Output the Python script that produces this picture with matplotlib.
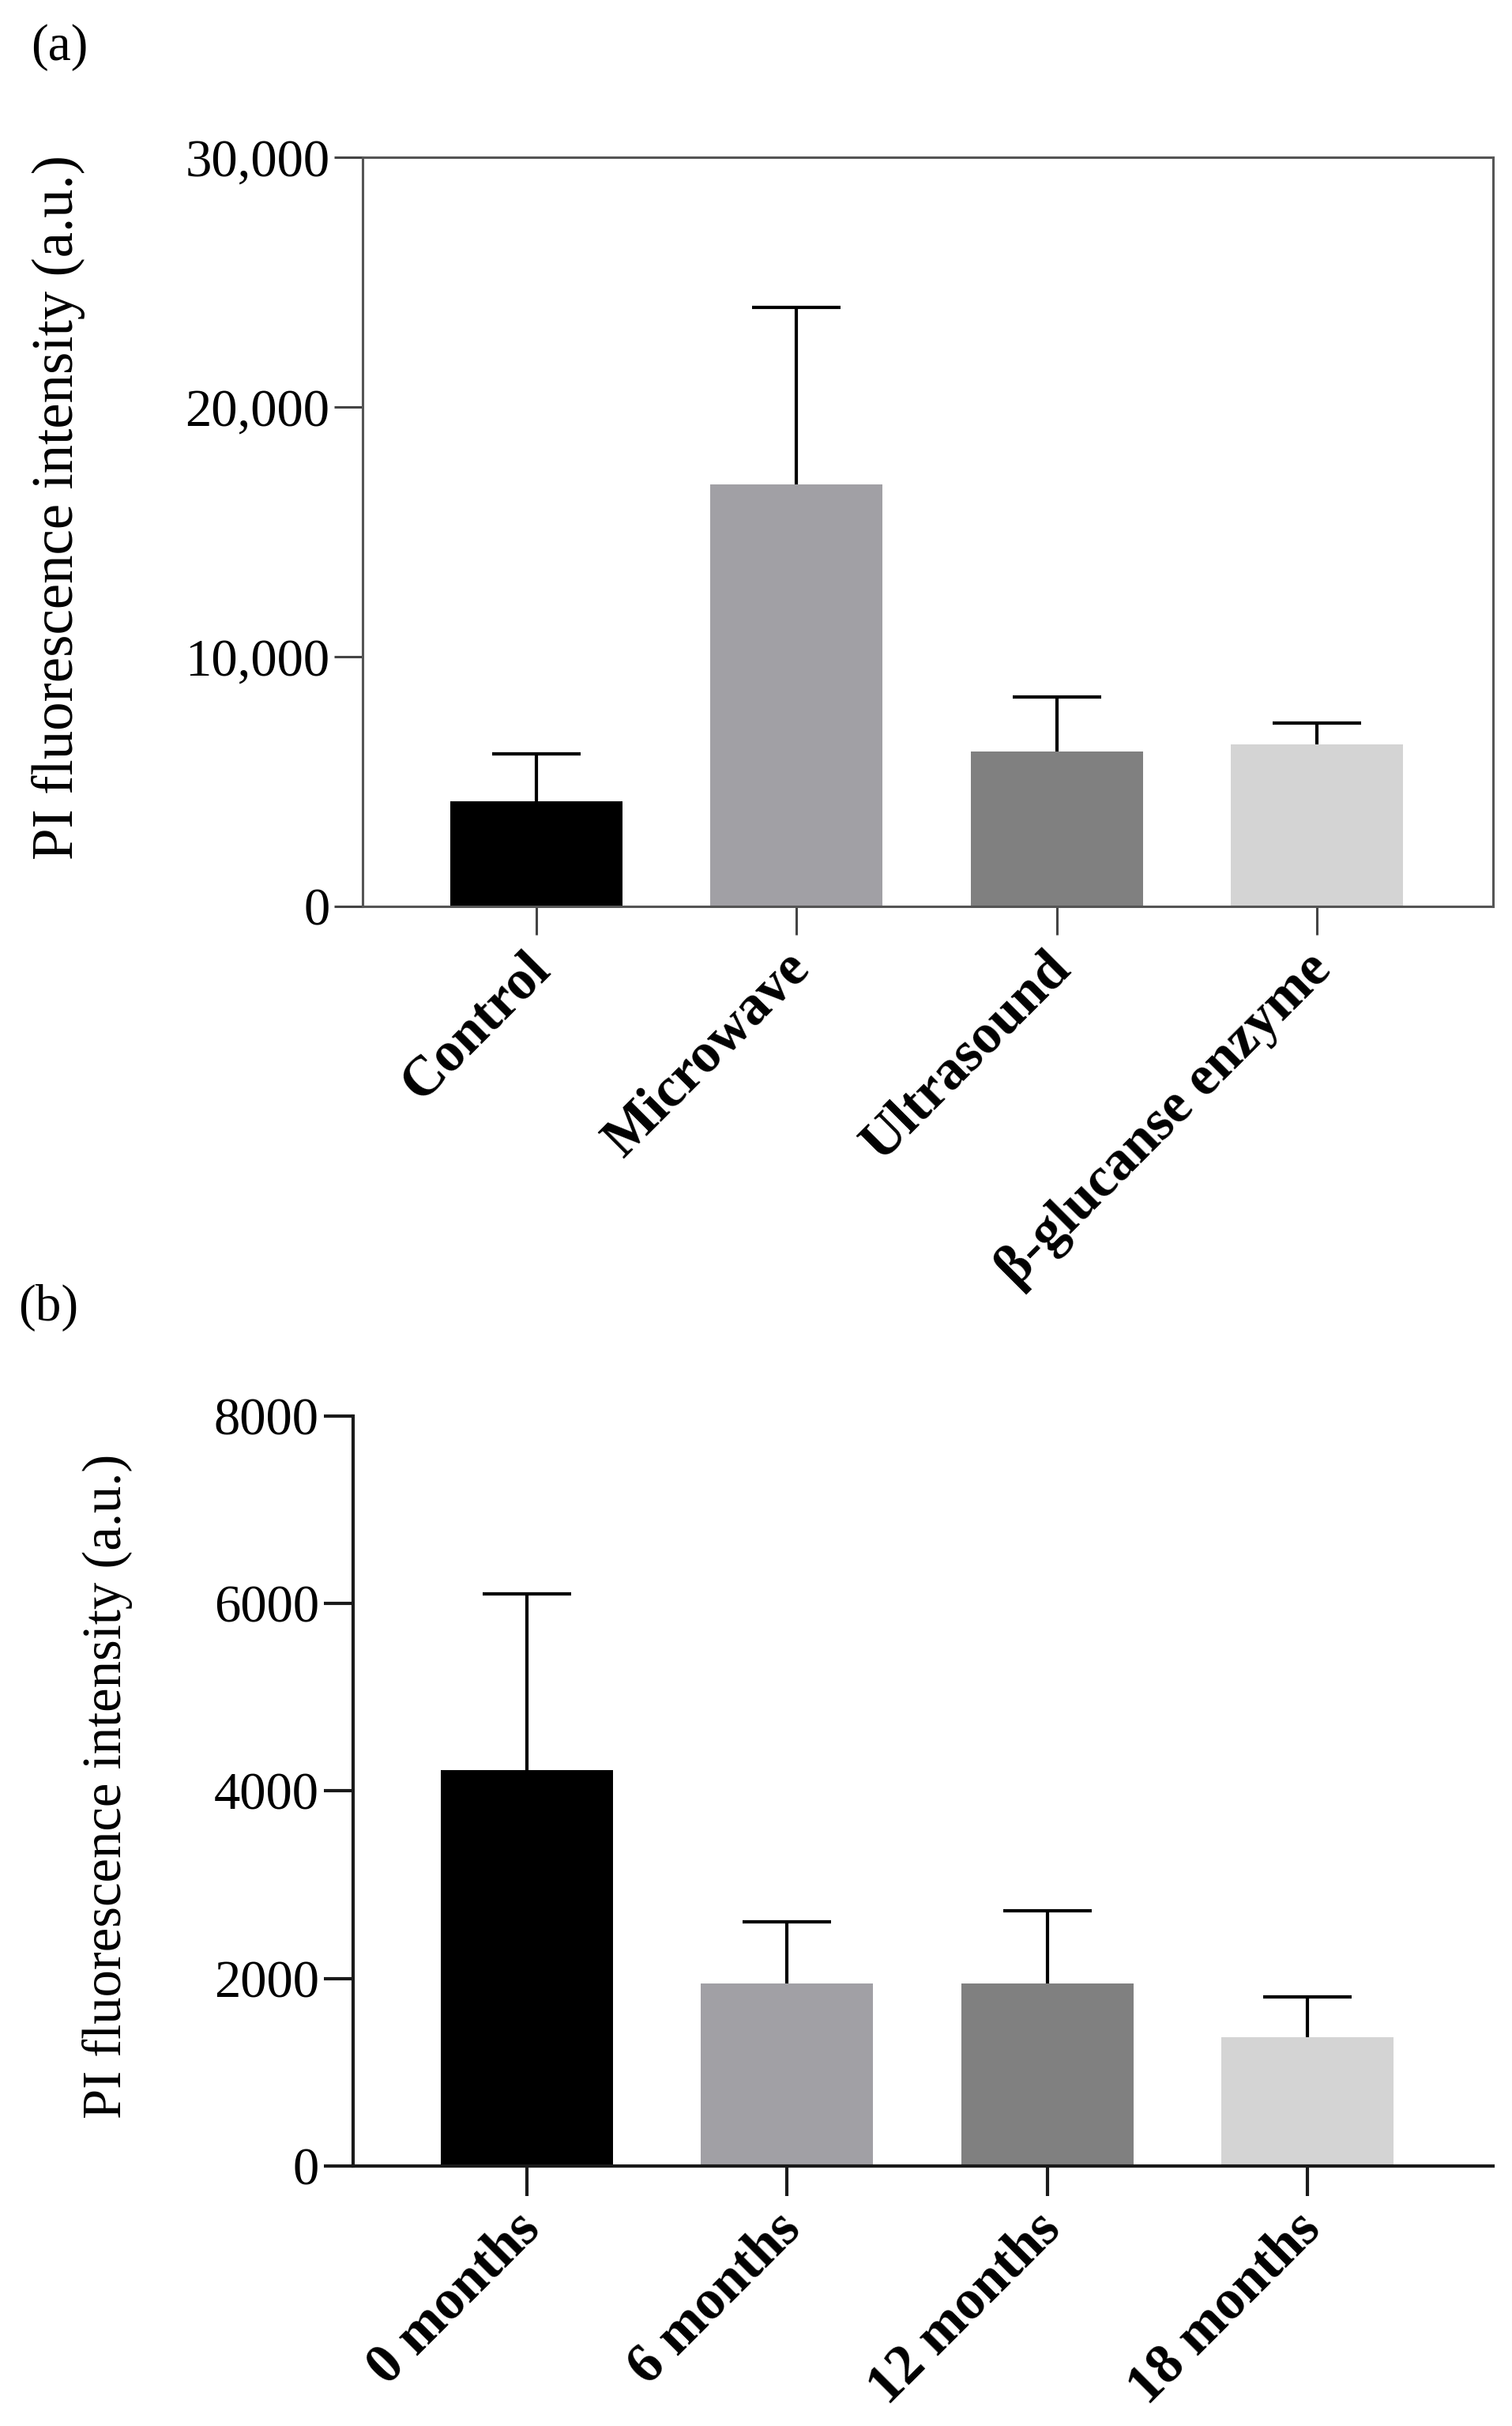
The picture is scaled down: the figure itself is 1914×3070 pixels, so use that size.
import numpy as np
import matplotlib
matplotlib.use("Agg")
import matplotlib.pyplot as plt
from matplotlib.transforms import ScaledTranslation

plt.rcParams["font.family"] = ["Liberation Serif", "DejaVu Serif"]

# panel (a): treatments
treatments = ["Control", "Microwave", "Ultrasound", "β-glucanse enzyme"]
treat_means = [4200, 16900, 6200, 6500]
treat_err = [1900, 7100, 2200, 850]

# panel (b): storage time
months = ["0 months", "6 months", "12 months", "18 months"]
month_means = [4220, 1950, 1950, 1370]
month_err = [1880, 650, 770, 430]

bar_colors = ["#000000", "#a1a0a5", "#808080", "#d4d4d4"]
ylabel = "PI fluorescence intensity (a.u.)"


def draw_bars(ax, means, err):
    x = np.arange(len(means))
    bars = ax.bar(x, means, width=0.662, color=bar_colors,
                  yerr=[np.zeros(len(err)), err], capsize=40,
                  error_kw=dict(elinewidth=3, capthick=3, ecolor="black"))
    # only the upper cap is drawn in the original
    bars.errorbar.lines[1][0].set_visible(False)
    return x


def rotated_labels(ax, labels):
    # call after tick_params, which would reset size and transform
    ax.set_xticklabels(labels, rotation=45, ha="right", rotation_mode="anchor",
                       fontweight="bold", fontsize=51)
    shift = ScaledTranslation(-0.16, 0.04, fig.dpi_scale_trans)
    for lab in ax.get_xticklabels():
        lab.set_transform(lab.get_transform() + shift)


fig = plt.figure(figsize=(19.14, 30.70), dpi=100)

# ---- (a)
ax1 = fig.add_axes([0.2398, 0.6264, 0.7477, 0.3088])
x = draw_bars(ax1, treat_means, treat_err)
ax1.set_xlim(-0.668, 3.677)
ax1.set_ylim(0, 30000)
ax1.set_yticks([0, 10000, 20000, 30000])
ax1.set_yticklabels(["0", "10,000", "20,000", "30,000"])
ax1.set_xticks(x)
for s in ax1.spines.values():
    s.set_color("#555555")
    s.set_linewidth(2.2)
ax1.tick_params(axis="both", direction="out", length=26, width=2.2, color="#444444",
                labelsize=48, pad=4)
ax1.tick_params(axis="x", pad=10)
rotated_labels(ax1, treatments)
ax1.set_ylabel(ylabel, fontsize=52.5)
ax1.yaxis.set_label_coords(-0.245, 0.533)
fig.text(0.0204, 0.99, "(a)", fontsize=47, va="top", ha="left")

# ---- (b)
ax2 = fig.add_axes([0.2335, 0.1072, 0.7540, 0.3091])
x = draw_bars(ax2, month_means, month_err)
ax2.set_xlim(-0.668, 3.714)
ax2.set_ylim(0, 8000)
ax2.set_yticks([0, 2000, 4000, 6000, 8000])
ax2.set_xticks(x)
ax2.spines["top"].set_visible(False)
ax2.spines["right"].set_visible(False)
for s in ["left", "bottom"]:
    ax2.spines[s].set_linewidth(3)
    ax2.spines[s].set_color("#1a1a1a")
ax2.tick_params(axis="both", direction="out", length=27, width=3, color="#1a1a1a",
                labelsize=48, pad=4)
ax2.tick_params(axis="x", pad=10)
rotated_labels(ax2, months)
ax2.set_ylabel(ylabel, fontsize=49.5)
ax2.yaxis.set_label_coords(-0.193, 0.506)
fig.text(0.0123, 0.4707, "(b)", fontsize=47, va="top", ha="left")

fig.savefig("out.png", dpi=100, facecolor="white")
